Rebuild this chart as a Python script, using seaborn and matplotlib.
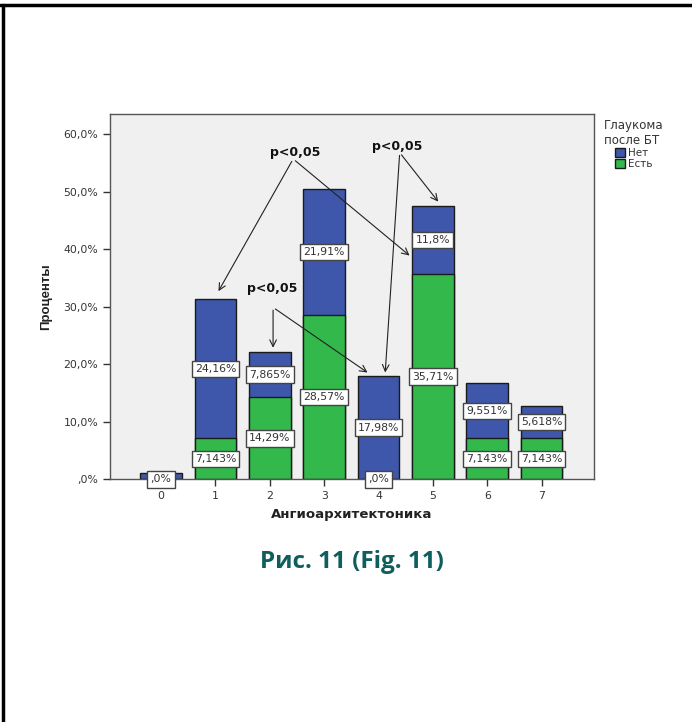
import matplotlib
matplotlib.use("Agg")
import matplotlib.pyplot as plt
import pandas as pd
import seaborn as sns
from matplotlib.lines import Line2D
from matplotlib.patches import Patch

# Данные
categories = ["0", "1", "2", "3", "4", "5", "6", "7"]
net_values = [1.124, 24.16, 7.865, 21.91, 17.98, 11.8, 9.551, 5.618]   # Нет
est_values = [0.0, 7.143, 14.29, 28.57, 0.0, 35.71, 7.143, 7.143]      # Есть
net_label_shown = [False, True, True, True, True, True, True, True]
y_ticks = [0, 10, 20, 30, 40, 50, 60]

BLUE = "#3E57AA"
GREEN = "#32B84B"


def spss_pct(v, fmt="{:.4g}"):
    """Format like SPSS: comma decimal, no leading zero."""
    s = fmt.format(v).replace(".", ",")
    if s.startswith("0,"):
        s = s[1:]
    if s == "0":
        s = ",0"
    return s + "%"


df = pd.DataFrame({"cat": categories, "net": net_values, "est": est_values})
df["total"] = df["net"] + df["est"]

sns.set_style("white")
plt.rcParams["font.family"] = ["DejaVu Sans"]

fig = plt.figure(figsize=(6.92, 7.22), dpi=100)
ax = fig.add_axes([0.159, 0.336, 0.699, 0.506])
ax.set_facecolor("#F0F0F0")

sns.barplot(data=df, x="cat", y="total", color=BLUE, width=0.77,
            edgecolor="#1a1a1a", linewidth=1.0, saturation=1, ax=ax)
sns.barplot(data=df, x="cat", y="est", color=GREEN, width=0.77,
            edgecolor="#1a1a1a", linewidth=1.0, saturation=1, ax=ax)

box = dict(boxstyle="square,pad=0.3", facecolor="white", edgecolor="#444444", linewidth=1)
for i, row in df.iterrows():
    ax.text(i, row["est"] / 2, spss_pct(row["est"]), ha="center", va="center",
            fontsize=7.8, color="#333333", bbox=box, zorder=5)
    if net_label_shown[i]:
        ax.text(i, row["est"] + row["net"] / 2, spss_pct(row["net"]), ha="center",
                va="center", fontsize=7.8, color="#333333", bbox=box, zorder=5)

ax.set_xlim(-0.94, 7.96)
ax.set_ylim(0, 63.5)
ax.set_yticks(y_ticks)
ax.set_yticklabels([spss_pct(v, "{:.1f}") for v in y_ticks])
ax.tick_params(axis="both", direction="out", length=5, width=1, color="#333333",
               labelsize=7.8, labelcolor="#333333", left=True, bottom=True)
for sp in ax.spines.values():
    sp.set_color("#555555")
    sp.set_linewidth(1)

ax.set_xlabel("Ангиоархитектоника", fontsize=9.5, fontweight="bold", labelpad=5,
              color="#222222")
ax.set_ylabel("Проценты", fontsize=9.5, fontweight="bold", labelpad=8,
              color="#222222", family=["Liberation Sans Narrow", "Liberation Sans", "DejaVu Sans"])

# Стрелки со значимостью
arrow_kw = dict(arrowstyle="->", color="#222222", lw=0.8, mutation_scale=12)
annotations = [
    ((2.46, 56.9), (2.43, 55.7), [(1.03, 32.3), (4.61, 38.6)]),
    ((4.34, 57.8), (4.39, 56.8), [(5.13, 47.9), (4.12, 18.1)]),
    ((2.04, 33.2), (2.06, 29.9), [(2.06, 22.4), (3.84, 18.3)]),
]
for text_xy, start, ends in annotations:
    ax.text(*text_xy, "p<0,05", ha="center", va="center", fontsize=9,
            fontweight="bold", color="#111111", zorder=6)
    for end in ends:
        ax.annotate("", xy=end, xytext=start, arrowprops=arrow_kw, zorder=6)

handles = [Patch(facecolor=BLUE, edgecolor="#1a1a1a", label="Нет"),
           Patch(facecolor=GREEN, edgecolor="#1a1a1a", label="Есть")]
leg = fig.legend(handles=handles, title="Глаукома\nпосле БТ", loc="upper left",
                 bbox_to_anchor=(0.862, 0.845), frameon=False, fontsize=7.5,
                 title_fontsize=8.5, handlelength=1.0, handleheight=0.9,
                 handletextpad=0.3, labelspacing=0.1, borderpad=0.2)
leg.get_title().set_color("#333333")
for t in leg.get_texts():
    t.set_color("#333333")

fig.text(0.509, 0.222, "Рис. 11 (Fig. 11)", ha="center", va="center",
         fontsize=17.5, fontweight="bold", color="#0E5E5E", family=["Open Sans", "DejaVu Sans"])

# Рамка страницы
fig.add_artist(Line2D([0, 1], [0.9935, 0.9935], color="black", lw=2.5))
fig.add_artist(Line2D([0.0045, 0.0045], [0, 0.9935], color="black", lw=2.5))

fig.savefig("out.png", dpi=100, facecolor="white")
